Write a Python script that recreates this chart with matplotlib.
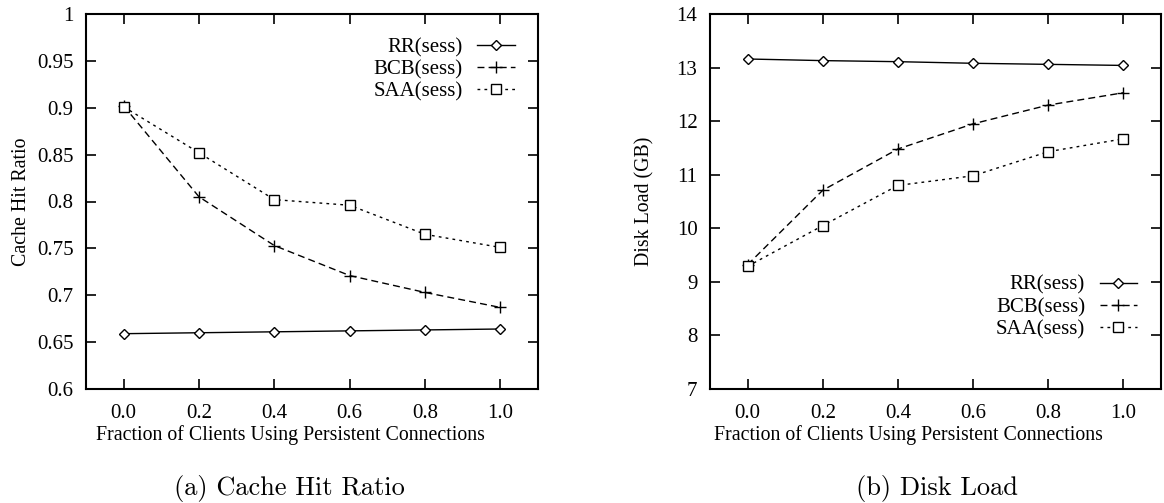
import matplotlib
matplotlib.use("Agg")
import matplotlib.pyplot as plt

# fraction of clients using persistent connections
fractions = [0.0, 0.2, 0.4, 0.6, 0.8, 1.0]
x_ticklabels = ["0.0", "0.2", "0.4", "0.6", "0.8", "1.0"]
series_names = ["RR(sess)", "BCB(sess)", "SAA(sess)"]

# (a) cache hit ratio
hit_rr = [0.659, 0.660, 0.661, 0.662, 0.663, 0.664]
hit_bcb = [0.902, 0.805, 0.753, 0.721, 0.703, 0.687]
hit_saa = [0.901, 0.852, 0.802, 0.796, 0.765, 0.751]
hit_yticks = [0.6, 0.65, 0.7, 0.75, 0.8, 0.85, 0.9, 0.95, 1.0]

# (b) disk load in GB
disk_rr = [13.16, 13.13, 13.11, 13.08, 13.06, 13.04]
disk_bcb = [9.32, 10.71, 11.48, 11.95, 12.30, 12.53]
disk_saa = [9.29, 10.05, 10.80, 10.98, 11.43, 11.67]
disk_yticks = [7, 8, 9, 10, 11, 12, 13, 14]

plt.rcParams["font.family"] = ["Liberation Serif", "DejaVu Serif"]

W, H = 1164, 503
fig = plt.figure(figsize=(W / 100, H / 100), dpi=100)


def px_axes(x0, y0, x1, y1):
    return fig.add_axes([x0 / W, 1 - y1 / H, (x1 - x0) / W, (y1 - y0) / H])


styles = [
    dict(marker="D", linestyle="-", markersize=5.2, markerfacecolor="white"),
    dict(marker="+", linestyle=(0, (5, 3)), markersize=8, markeredgewidth=1.0),
    dict(marker="s", linestyle=(0, (2, 3)), markersize=7.5, markerfacecolor="white"),
]


def draw(ax, data, ylim, yticks, ylabel, xlab_x, ylab_x, leg_anchor):
    for ys, name, st in zip(data, series_names, styles):
        ax.plot(fractions, ys, color="black", linewidth=1.0, label=name,
                markeredgecolor="black", **st)
    ax.set_xlim(-0.1, 1.1)
    ax.set_ylim(*ylim)
    ax.set_xticks(fractions)
    ax.set_xticklabels(x_ticklabels)
    ax.set_yticks(yticks)
    ax.set_yticklabels([f"{v:g}" for v in yticks])
    ax.tick_params(direction="in", length=7, width=1.2, top=True, right=True,
                   labelsize=15)
    ax.tick_params(axis="x", pad=11)
    ax.tick_params(axis="y", pad=9)
    for s in ax.spines.values():
        s.set_linewidth(1.5)
    ax.set_xlabel("Fraction of Clients Using Persistent Connections", fontsize=14.3)
    ax.xaxis.set_label_coords(xlab_x, -0.097)
    ax.set_ylabel(ylabel, fontsize=14.3)
    ax.yaxis.set_label_coords(ylab_x, 0.5)
    ax.legend(loc="upper right", bbox_to_anchor=leg_anchor, frameon=False,
              markerfirst=False, fontsize=15, handlelength=1.8,
              handletextpad=0.7, labelspacing=0.12, borderpad=0,
              borderaxespad=0)


# left panel: 86..538 px wide, 14..389 px tall
ax1 = px_axes(86, 14, 538, 389)
draw(ax1, [hit_rr, hit_bcb, hit_saa], (0.6, 1.0), hit_yticks,
     "Cache Hit Ratio", (290 - 86) / 452, -0.122, (0.949, 0.936))

ax2 = px_axes(710, 14, 1161, 389)
draw(ax2, [disk_rr, disk_bcb, disk_saa], (7, 14), disk_yticks,
     "Disk Load (GB)", (908 - 710) / 451, -0.124, (0.947, 0.303))

fig.text(289 / W, 1 - 488 / H, "(a) Cache Hit Ratio", family="cmr10",
         fontsize=19, ha="center", va="center")
fig.text(937 / W, 1 - 488 / H, "(b) Disk Load", family="cmr10",
         fontsize=19, ha="center", va="center")

fig.savefig("out.png", dpi=100)
